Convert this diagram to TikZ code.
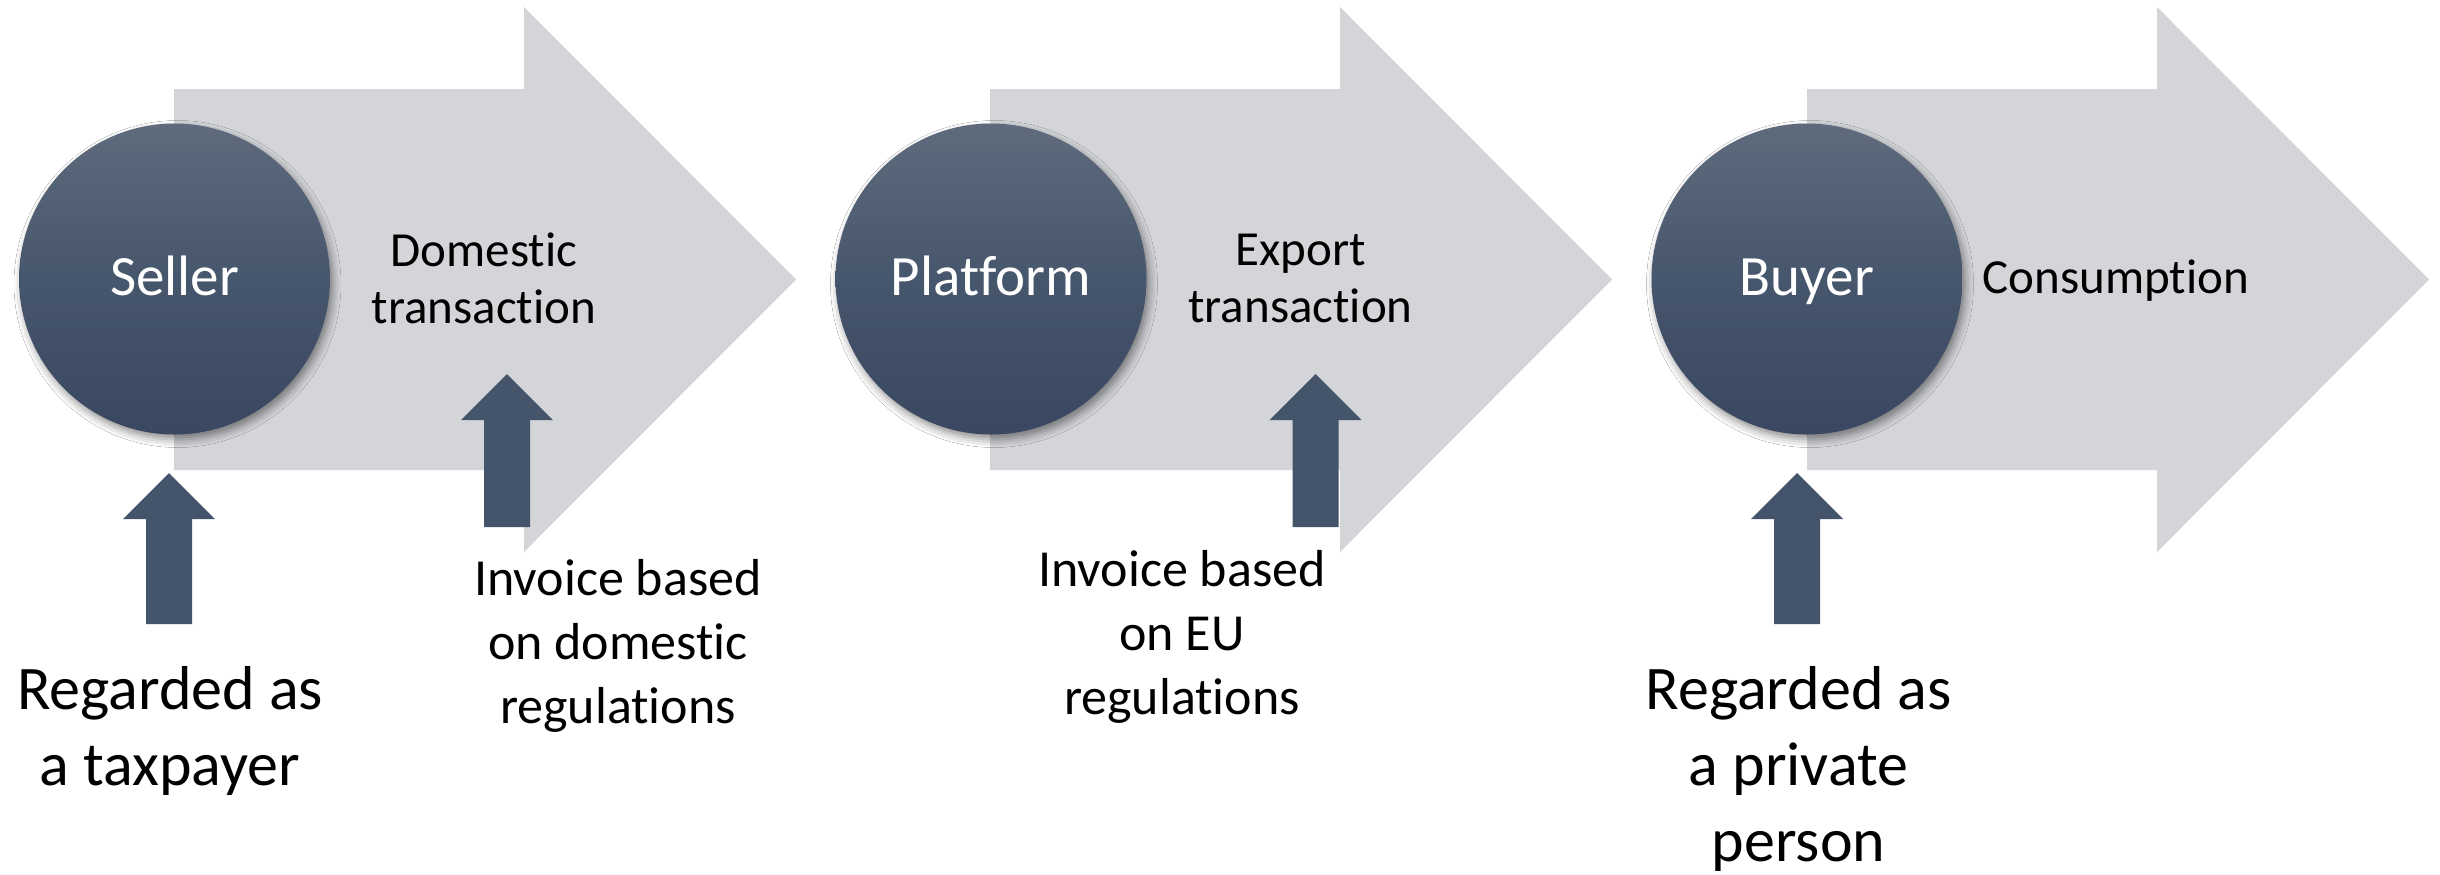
\documentclass[tikz,border=0pt]{standalone}
\usepackage{fontspec}
\setmainfont{Carlito}[Ligatures={NoCommon}]
\usetikzlibrary{shadows.blur}
\definecolor{arrowgray}{HTML}{D4D5D9}
\definecolor{slate}{HTML}{44546A}
\definecolor{slatetop}{HTML}{5F6B7D}
\definecolor{slatemid}{HTML}{46566C}
\definecolor{slatebot}{HTML}{394760}
\newcommand\bigflow[1]{%
  \fill[arrowgray] (#1,89) -- (#1+350,89) -- (#1+350,7) -- (#1+622,279.5)
    -- (#1+350,552) -- (#1+350,470) -- (#1,470) -- cycle;}
\newcommand\blockup[3]{%
  \fill[slate] (#1,#2) -- (#1+46,#2+46) -- (#1+23,#2+46) -- (#1+23,#3)
    -- (#1-23,#3) -- (#1-23,#2+46) -- (#1-46,#2+46) -- cycle;}
\begin{document}
\begin{tikzpicture}[x=0.5pt,y=-0.5pt,
  hub/.style={circle, minimum size=155.5pt, inner sep=0pt,
    top color=slatetop, bottom color=slatebot, middle color=slatemid,
    text=white, font=\fontsize{28.5}{34}\selectfont,
    text height=16pt, text depth=0pt,
    blur shadow={shadow xshift=1.5pt, shadow yshift=-2.5pt,
      shadow blur radius=4pt, shadow opacity=45}},
  lbl/.style={align=center, inner sep=0pt, text=black},
  flowtxt/.style={lbl, font=\fontsize{24.5}{28.5}\selectfont},
  invtxt/.style={lbl, font=\fontsize{26}{32}\selectfont},
  roletxt/.style={lbl, font=\fontsize{31}{38}\selectfont}]
\useasboundingbox (0,0) rectangle (2440,874);
\fill[white] (0,0) rectangle (2440,874);
% big flow arrows
\bigflow{174}
\bigflow{990}
\bigflow{1807}
% circles
\node[hub] (seller) at (174.5,279) {Seller};
\node[hub] (platform) at (991,279) {Platform};
\node[hub] (buyer) at (1807,279) {Buyer};
% flow labels
\node[flowtxt] (dom) at (484,278) {Domestic\\transaction};
\node[flowtxt] (exp) at (1300.5,278) {Export\\transaction};
\node[flowtxt, anchor=base] (cons) at (2116,293) {Consumption};
% block arrows
\blockup{169}{473}{624}
\blockup{507}{374}{527}
\blockup{1315.5}{374}{527}
\blockup{1797}{473}{624}
% bottom labels
\node[invtxt] (inv1) at (618,646) {Invoice based\\on domestic\\regulations};
\node[invtxt] (inv2) at (1182,636.5) {Invoice based\\on EU\\regulations};
\node[roletxt] (role1) at (170,731) {Regarded as\\a taxpayer};
\node[roletxt] (role2) at (1798.5,769) {Regarded as\\a private\\person};
\end{tikzpicture}
\end{document}
